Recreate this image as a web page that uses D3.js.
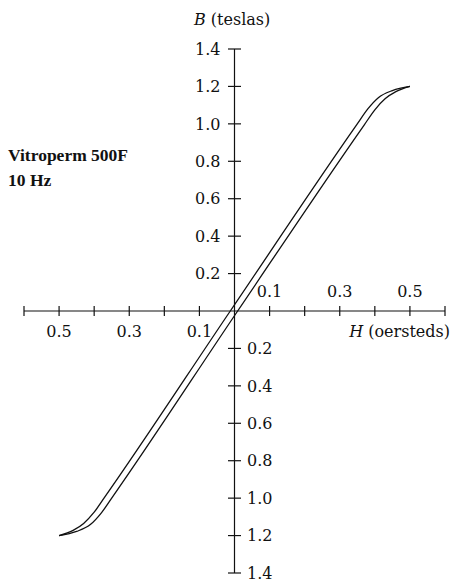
<!DOCTYPE html>
<html><head><meta charset="utf-8">
<script src="https://cdn.jsdelivr.net/npm/d3@7/dist/d3.min.js"></script>
<style>body{margin:0;background:#fff}svg{display:block}text{font-family:"DejaVu Serif",serif;fill:#111}</style>
</head><body><svg id="c" width="452" height="582"></svg>
<script>
// Tick values
const xTicks = [-0.6,-0.5,-0.4,-0.3,-0.2,-0.1,0.1,0.2,0.3,0.4,0.5,0.6];
const xLabelsLeft = [-0.5,-0.3,-0.1];
const xLabelsRight = [0.1,0.3,0.5];
const yTicks = [1.4,1.2,1.0,0.8,0.6,0.4,0.2,-0.2,-0.4,-0.6,-0.8,-1.0,-1.2,-1.4];
// Descending branch (upper / left line): [H, B]
const branchDownH = [0.50,0.45,0.41,0.38,0.35,-0.012,-0.37,-0.40,-0.43,-0.46,-0.50];
const branchDownB = [1.20,1.178,1.14,1.08,1.0,0.0,-0.995,-1.075,-1.135,-1.172,-1.20];
// Ascending branch (lower / right line): [H, B]
const branchUpH = [-0.50,-0.45,-0.41,-0.38,-0.35,0.009,0.37,0.40,0.43,0.46,0.50];
const branchUpB = [-1.20,-1.178,-1.14,-1.08,-1.0,0.0,0.995,1.075,1.135,1.172,1.20];

const svg = d3.select("#c");
const x = d3.scaleLinear().domain([-0.6,0.6]).range([24,445]);
const y = d3.scaleLinear().domain([-1.4,1.4]).range([573,49]);
const x0 = x(0), y0 = y(0);
const fmt = d => Math.abs(d).toFixed(1);

// axes
svg.append("line").attr("x1",x(-0.6)).attr("x2",x(0.6)).attr("y1",y0).attr("y2",y0).attr("stroke","#111").attr("stroke-width",1.2);
svg.append("line").attr("x1",x0).attr("x2",x0).attr("y1",y(1.4)).attr("y2",y(-1.4)).attr("stroke","#111").attr("stroke-width",1.2);
svg.selectAll(".xt").data(xTicks).join("line").attr("x1",d=>x(d)).attr("x2",d=>x(d)).attr("y1",y0-5).attr("y2",y0+5).attr("stroke","#111").attr("stroke-width",1.2);
svg.selectAll(".yt").data(yTicks).join("line").attr("y1",d=>y(d)).attr("y2",d=>y(d)).attr("x1",x0-6.5).attr("x2",x0+6.5).attr("stroke","#111").attr("stroke-width",1.2);

svg.selectAll(".xl").data(xLabelsLeft).join("text").attr("x",d=>x(d)).attr("y",y0+26).attr("text-anchor","middle").attr("font-size",16).text(fmt);
svg.selectAll(".xr").data(xLabelsRight).join("text").attr("x",d=>x(d)).attr("y",y0-14).attr("text-anchor","middle").attr("font-size",16).text(fmt);
svg.selectAll(".yl").data(yTicks).join("text")
  .attr("x",d=> d>0 ? x0-14 : x0+12.5)
  .attr("y",d=>y(d)).attr("dy","0.36em")
  .attr("text-anchor",d=> d>0 ? "end":"start").attr("font-size",16).text(fmt);

// axis titles
const tB = svg.append("text").attr("x",194).attr("y",25).attr("font-size",16);
tB.append("tspan").attr("font-style","italic").text("B");
tB.append("tspan").text(" (teslas)");
const tH = svg.append("text").attr("x",450).attr("y",y0+26).attr("text-anchor","end").attr("font-size",16);
tH.append("tspan").attr("font-style","italic").text("H");
tH.append("tspan").text(" (oersteds)");

svg.append("text").attr("x",8).attr("y",161).attr("font-size",17.5).attr("font-weight","bold").style("font-family","'Liberation Serif',serif").text("Vitroperm 500F");
svg.append("text").attr("x",8).attr("y",186).attr("font-size",17.5).attr("font-weight","bold").style("font-family","'Liberation Serif',serif").text("10 Hz");

// loop
const line = d3.line().x(d=>x(d[0])).y(d=>y(d[1])).curve(d3.curveMonotoneX);
const down = branchDownH.map((h,i)=>[h,branchDownB[i]]).reverse();
const up = branchUpH.map((h,i)=>[h,branchUpB[i]]);
[down,up].forEach(p=>svg.append("path").attr("d",line(p)).attr("fill","none").attr("stroke","#111").attr("stroke-width",1.3));
</script></body></html>
